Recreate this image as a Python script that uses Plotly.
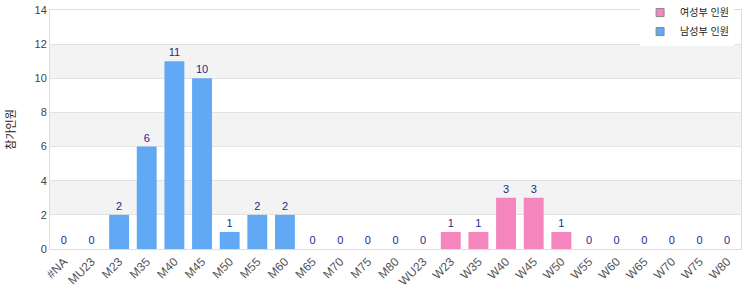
import plotly.graph_objects as go

cats_m = ["#NA", "MU23", "M23", "M35", "M40", "M45", "M50", "M55", "M60", "M65", "M70", "M75", "M80"]
vals_m = [0, 0, 2, 6, 11, 10, 1, 2, 2, 0, 0, 0, 0]
cats_w = ["WU23", "W23", "W35", "W40", "W45", "W50", "W55", "W60", "W65", "W70", "W75", "W80"]
vals_w = [0, 1, 1, 3, 3, 1, 0, 0, 0, 0, 0, 0]
all_cats = cats_m + cats_w
name_w = "여성부 인원"
name_m = "남성부 인원"
y_title = "참가인원"
y_ticks = [0, 2, 4, 6, 8, 10, 12, 14]

font = "Liberation Sans, Arial, Noto Sans CJK KR, sans-serif"
label_color = "#1f1f8f"
col_m = "#62a9f5"
col_w = "#f485bd"

fig = go.Figure()
fig.add_trace(go.Bar(x=cats_m, y=vals_m, name=name_m, marker=dict(color=col_m, line=dict(width=0)),
                     text=vals_m, textposition="outside", textfont=dict(color=label_color, size=11),
                     cliponaxis=False, showlegend=False))
fig.add_trace(go.Bar(x=cats_w, y=vals_w, name=name_w, marker=dict(color=col_w, line=dict(width=0)),
                     text=vals_w, textposition="outside", textfont=dict(color=label_color, size=11),
                     cliponaxis=False, showlegend=False))
fig.add_trace(go.Scatter(x=[None], y=[None], mode="markers", name=name_m,
                         marker=dict(symbol="square", size=8, color=col_m, line=dict(color="#888", width=1))))
fig.add_trace(go.Scatter(x=[None], y=[None], mode="markers", name=name_w,
                         marker=dict(symbol="square", size=8, color=col_w, line=dict(color="#888", width=1))))

shapes = []
for lo in [2, 6, 10]:
    shapes.append(dict(type="rect", xref="paper", yref="y", x0=0, x1=1, y0=lo, y1=lo + 2,
                       fillcolor="#f3f3f3", line=dict(width=0), layer="below"))

fig.update_layout(
    width=750, height=300,
    margin=dict(l=50, r=9, t=10, b=51, autoexpand=False),
    paper_bgcolor="white", plot_bgcolor="white",
    font=dict(family=font, size=11, color="#444"),
    barmode="overlay", bargap=0.28,
    showlegend=True,
    legend=dict(x=0.99, xanchor="right", y=1.05, yanchor="top",
                traceorder="reversed", bgcolor="white", font=dict(size=10, color="#222"),
                tracegroupgap=0, itemwidth=30),
    shapes=shapes,
    xaxis=dict(categoryorder="array", categoryarray=all_cats, tickangle=-45, automargin=False,
               showline=True, linecolor="#dddddd", mirror=True, showgrid=False,
               tickfont=dict(size=12, color="#555"), ticks=""),
    yaxis=dict(range=[0, 14], tickvals=y_ticks, showline=True, linecolor="#dddddd", mirror=True,
               showgrid=True, gridcolor="#e2e2e2", zeroline=False, automargin=False,
               tickfont=dict(size=11, color="#444"),
               title=dict(text=y_title, font=dict(size=11, color="#222"), standoff=16)),
)

fig.write_html("out.html")
